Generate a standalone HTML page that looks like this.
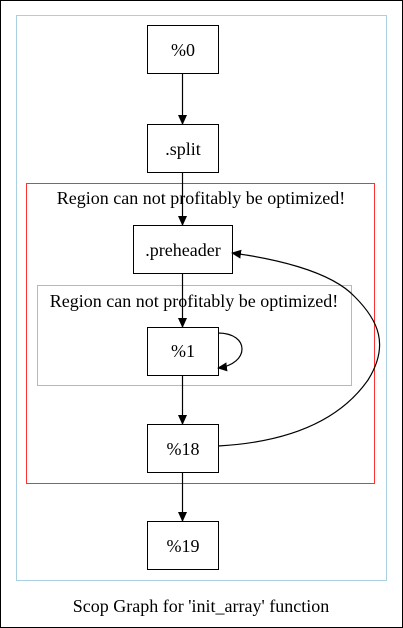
<!DOCTYPE html>
<html><head><style>body{margin:0;background:#fff}svg{display:block}text{font-family:"Liberation Serif",serif;font-size:18px;fill:#000}</style></head>
<body>
<svg width="403" height="628" viewBox="0 0 403 628" xmlns="http://www.w3.org/2000/svg">
<defs><marker id="a" markerWidth="10" markerHeight="10" refX="9" refY="5" orient="auto" markerUnits="userSpaceOnUse"><path d="M0,0.5 L10,5 L0,9.5 z" fill="#000"/></marker></defs>
<rect x="0.5" y="0.5" width="402" height="627" fill="#fff" stroke="#000"/>
<rect x="16.5" y="15.5" width="370" height="565" fill="none" stroke="#a8d0e0"/>
<rect x="26.5" y="183.5" width="348" height="300" fill="none" stroke="#ff3030"/>
<rect x="37.5" y="285.5" width="314" height="100" fill="none" stroke="#ff9a9a"/>
<text x="201" y="204" text-anchor="middle">Region can not profitably be optimized!</text>
<text x="194" y="307" text-anchor="middle">Region can not profitably be optimized!</text>
<g fill="#fff" stroke="#000">
<rect x="147.5" y="25.5" width="71" height="48"/>
<rect x="147.5" y="124.5" width="71" height="48"/>
<rect x="133.5" y="225.5" width="99" height="48"/>
<rect x="147.5" y="327.5" width="71" height="48"/>
<rect x="147.5" y="424.5" width="71" height="48"/>
<rect x="147.5" y="521.5" width="71" height="48"/>
</g>
<g text-anchor="middle">
<text x="183" y="56">%0</text>
<text x="183" y="155">.split</text>
<text x="183" y="256">.preheader</text>
<text x="183" y="357">%1</text>
<text x="183" y="455">%18</text>
<text x="183" y="552">%19</text>
</g>
<g stroke="#000" fill="none" stroke-width="1.2">
<line x1="182.5" y1="73" x2="182.5" y2="124" marker-end="url(#a)"/>
<line x1="182.5" y1="172" x2="182.5" y2="225" marker-end="url(#a)"/>
<line x1="182.5" y1="273" x2="182.5" y2="327" marker-end="url(#a)"/>
<line x1="182.5" y1="375" x2="182.5" y2="424" marker-end="url(#a)"/>
<line x1="182.5" y1="472" x2="182.5" y2="521" marker-end="url(#a)"/>
<path d="M218,333 C250,333 250,364 218,368" marker-end="url(#a)"/>
<path d="M218,446 C290,442 340,420 368,380 C390,345 378,320 355,297 C330,270 270,258 232,253" marker-end="url(#a)"/>
</g>
<text x="201" y="612" text-anchor="middle">Scop Graph for 'init_array' function</text>
</svg>
</body></html>
